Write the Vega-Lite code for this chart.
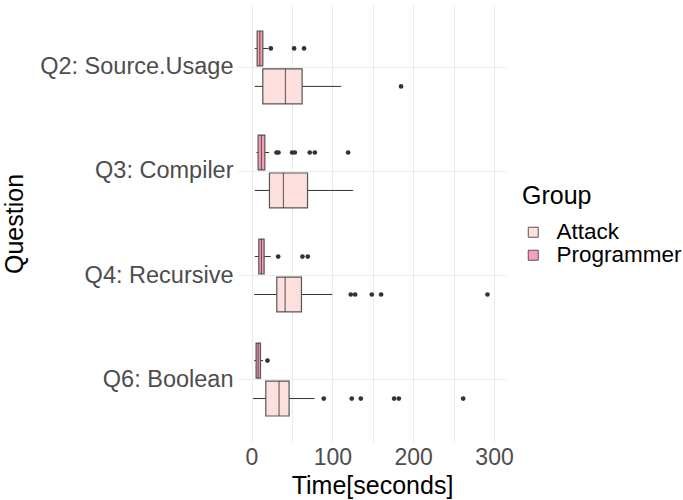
{
  "$schema": "https://vega.github.io/schema/vega-lite/v6.json",
  "autosize": {"type": "none"},
  "padding": {"left": 238, "top": 5, "right": 177, "bottom": 58},
  "width": 268,
  "height": 437,
  "background": "white",
  "config": {
    "font": "Liberation Sans",
    "view": {"stroke": null},
    "axis": {"gridColor": "#EBEBEB", "gridWidth": 1, "domain": false, "ticks": false}
  },
  "datasets": {
    "boxes": [
      {"question": "Q2: Source.Usage", "group": "Programmer", "lower": 4, "q1": 7, "median": 10.3, "q3": 14, "upper": 20.6},
      {"question": "Q2: Source.Usage", "group": "Attack", "lower": 4, "q1": 14, "median": 42, "q3": 62.6, "upper": 111},
      {"question": "Q3: Compiler", "group": "Programmer", "lower": 6.2, "q1": 8.2, "median": 12.3, "q3": 16.5, "upper": 21.8},
      {"question": "Q3: Compiler", "group": "Attack", "lower": 4, "q1": 22.2, "median": 39.5, "q3": 69.3, "upper": 125.7},
      {"question": "Q4: Recursive", "group": "Programmer", "lower": 4, "q1": 9, "median": 12.3, "q3": 15.6, "upper": 23.9},
      {"question": "Q4: Recursive", "group": "Attack", "lower": 3.3, "q1": 31.3, "median": 41.6, "q3": 61.8, "upper": 100},
      {"question": "Q6: Boolean", "group": "Programmer", "lower": 3.3, "q1": 5.7, "median": 8.2, "q3": 11.1, "upper": 14.4},
      {"question": "Q6: Boolean", "group": "Attack", "lower": 2, "q1": 17.7, "median": 34.1, "q3": 46.5, "upper": 77.9}
    ],
    "outliers": [
      {"question": "Q2: Source.Usage", "group": "Programmer", "time": 23.9},
      {"question": "Q2: Source.Usage", "group": "Programmer", "time": 52.7},
      {"question": "Q2: Source.Usage", "group": "Programmer", "time": 65},
      {"question": "Q2: Source.Usage", "group": "Attack", "time": 185},
      {"question": "Q3: Compiler", "group": "Programmer", "time": 30.9},
      {"question": "Q3: Compiler", "group": "Programmer", "time": 33.4},
      {"question": "Q3: Compiler", "group": "Programmer", "time": 50.2},
      {"question": "Q3: Compiler", "group": "Programmer", "time": 53.6},
      {"question": "Q3: Compiler", "group": "Programmer", "time": 72},
      {"question": "Q3: Compiler", "group": "Programmer", "time": 78.3},
      {"question": "Q3: Compiler", "group": "Programmer", "time": 119.5},
      {"question": "Q4: Recursive", "group": "Programmer", "time": 33},
      {"question": "Q4: Recursive", "group": "Programmer", "time": 63},
      {"question": "Q4: Recursive", "group": "Programmer", "time": 69.6},
      {"question": "Q4: Recursive", "group": "Attack", "time": 122.8},
      {"question": "Q4: Recursive", "group": "Attack", "time": 128.2},
      {"question": "Q4: Recursive", "group": "Attack", "time": 148.8},
      {"question": "Q4: Recursive", "group": "Attack", "time": 160.3},
      {"question": "Q4: Recursive", "group": "Attack", "time": 291.9},
      {"question": "Q6: Boolean", "group": "Programmer", "time": 19.8},
      {"question": "Q6: Boolean", "group": "Attack", "time": 89.4},
      {"question": "Q6: Boolean", "group": "Attack", "time": 124},
      {"question": "Q6: Boolean", "group": "Attack", "time": 135.2},
      {"question": "Q6: Boolean", "group": "Attack", "time": 176.4},
      {"question": "Q6: Boolean", "group": "Attack", "time": 182.2},
      {"question": "Q6: Boolean", "group": "Attack", "time": 261.8}
    ]
  },
  "encoding": {
    "y": {
      "field": "question", "type": "nominal",
      "scale": {"domain": ["Q2: Source.Usage", "Q3: Compiler", "Q4: Recursive", "Q6: Boolean"], "paddingInner": 0.3, "paddingOuter": 0.25},
      "axis": {"title": "Question", "titleFontSize": 25, "titleFontWeight": "normal", "titleColor": "black", "titlePadding": 12,
               "labelFontSize": 23.5, "labelLimit": 0, "labelColor": "#4D4D4D", "labelPadding": 5, "grid": true, "bandPosition": 0.5}
    },
    "yOffset": {
      "field": "group", "type": "nominal",
      "scale": {"domain": ["Programmer", "Attack"], "paddingInner": 0.08, "paddingOuter": 0}
    }
  },
  "layer": [
    {
      "data": {"name": "boxes"},
      "mark": {"type": "rule", "color": "#333333", "strokeWidth": 1},
      "encoding": {
        "x": {
          "field": "lower", "type": "quantitative",
          "scale": {"domain": [-16.7, 314.8], "nice": false, "zero": false},
          "axis": {"title": "Time[seconds]", "titleFontSize": 25, "titleFontWeight": "normal", "titleColor": "black", "titlePadding": 4,
                   "values": [0, 50, 100, 150, 200, 250, 300],
                   "labelExpr": "datum.value % 100 === 0 ? datum.label : ''",
                   "labelFontSize": 23, "labelColor": "#4D4D4D", "labelPadding": 4, "grid": true}
        },
        "x2": {"field": "upper"}
      }
    },
    {
      "data": {"name": "boxes"},
      "mark": {"type": "bar", "stroke": "#555555", "strokeWidth": 1.2},
      "encoding": {
        "x": {"field": "q1", "type": "quantitative"},
        "x2": {"field": "q3"},
        "fill": {
          "field": "group", "type": "nominal",
          "scale": {"domain": ["Attack", "Programmer"], "range": ["#FDE0DD", "#FA9FB5"]},
          "legend": {"title": "Group", "orient": "none", "legendX": 284, "legendY": 179,
                     "titleFontSize": 25, "titleFontWeight": "normal", "titleColor": "black", "titlePadding": 12,
                     "labelFontSize": 22.5, "labelColor": "black", "labelOffset": 12,
                     "symbolType": "square", "symbolSize": 100, "symbolStrokeColor": "#555555", "symbolStrokeWidth": 1,
                     "symbolOpacity": 1, "rowPadding": -2}
        }
      }
    },
    {
      "data": {"name": "boxes"},
      "mark": {"type": "tick", "color": "#333333", "thickness": 1.2, "size": 35, "orient": "vertical"},
      "encoding": {
        "x": {"field": "median", "type": "quantitative"}
      }
    },
    {
      "data": {"name": "outliers"},
      "mark": {"type": "circle", "color": "#333333", "size": 22, "opacity": 1},
      "encoding": {
        "x": {"field": "time", "type": "quantitative"}
      }
    }
  ]
}
